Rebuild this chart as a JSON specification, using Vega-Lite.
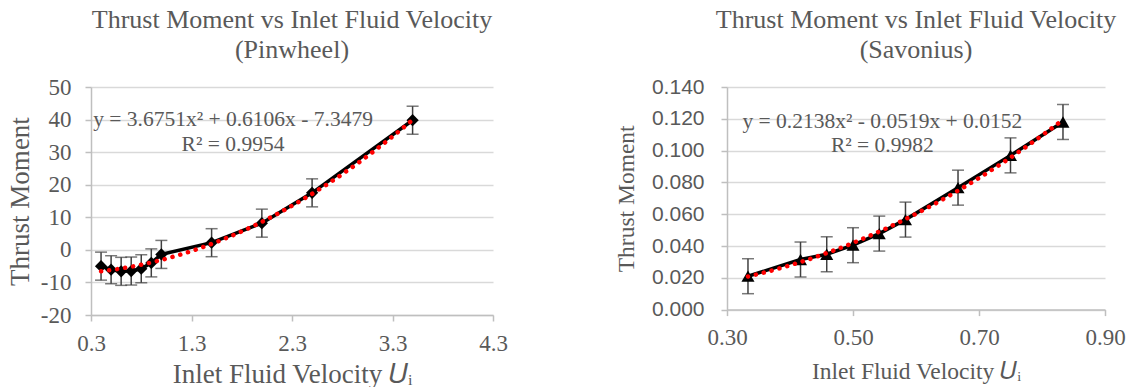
{
  "$schema": "https://vega.github.io/schema/vega-lite/v6.json",
  "padding": {"left": 6, "top": 7, "right": 5, "bottom": 0},
  "spacing": 106,
  "background": "white",
  "config": {
    "view": {"stroke": null},
    "title": {"font": "Liberation Serif", "fontSize": 26, "fontWeight": "normal", "color": "#595959", "lineHeight": 30, "offset": 13, "anchor": "middle", "frame": "group"},
    "axis": {
      "labelFont": "Liberation Serif", "titleFont": "Liberation Serif", "titleFontWeight": "normal",
      "labelColor": "#595959", "titleColor": "#595959",
      "gridColor": "#d9d9d9", "gridWidth": 1.5, "domainColor": "#bfbfbf", "domainWidth": 1.5,
      "tickColor": "#bfbfbf", "tickWidth": 1.5, "tickSize": 6, "labelFlush": false
    }
  },
  "datasets": {
    "pinwheel": [
      {"velocity": 0.4, "moment": -5.0, "error": 4.3},
      {"velocity": 0.5, "moment": -6.1, "error": 4.3},
      {"velocity": 0.6, "moment": -6.6, "error": 4.3},
      {"velocity": 0.7, "moment": -6.5, "error": 4.3},
      {"velocity": 0.8, "moment": -5.8, "error": 4.3},
      {"velocity": 0.9, "moment": -4.0, "error": 4.3},
      {"velocity": 1.0, "moment": -1.4, "error": 4.3},
      {"velocity": 1.5, "moment": 2.2, "error": 4.3},
      {"velocity": 2.0, "moment": 8.2, "error": 4.3},
      {"velocity": 2.5, "moment": 17.5, "error": 4.3},
      {"velocity": 3.5, "moment": 39.8, "error": 4.3}
    ],
    "savonius": [
      {"velocity": 0.3333, "moment": 0.0210, "error": 0.011},
      {"velocity": 0.4167, "moment": 0.0315, "error": 0.011},
      {"velocity": 0.4583, "moment": 0.0348, "error": 0.011},
      {"velocity": 0.5, "moment": 0.0405, "error": 0.011},
      {"velocity": 0.5417, "moment": 0.0478, "error": 0.011},
      {"velocity": 0.5833, "moment": 0.0566, "error": 0.011},
      {"velocity": 0.6667, "moment": 0.0767, "error": 0.011},
      {"velocity": 0.75, "moment": 0.0970, "error": 0.011},
      {"velocity": 0.8333, "moment": 0.1180, "error": 0.011}
    ],
    "pinwheelFit": [
      {"equation": "y = 3.6751x² + 0.6106x - 7.3479", "r2": "R² = 0.9954"}
    ],
    "savoniusFit": [
      {"equation": "y = 0.2138x² - 0.0519x + 0.0152", "r2": "R² = 0.9982"}
    ]
  },
  "hconcat": [
    {
      "width": 402, "height": 228,
      "title": {"text": ["Thrust Moment vs Inlet Fluid Velocity", "(Pinwheel)"]},
      "layer": [
        {
          "data": {"name": "pinwheel"},
          "encoding": {
            "x": {"field": "velocity", "type": "quantitative",
              "scale": {"domain": [0.3, 4.3], "nice": false, "zero": false},
              "axis": {"title": "Inlet Fluid Velocity 𝑈ᵢ", "values": [0.3, 1.3, 2.3, 3.3, 4.3], "format": ".1f", "grid": false,
                "labelFont": "Liberation Serif", "labelFlush": false,
                "labelFontSize": 23, "labelPadding": 11, "titleFontSize": 27, "titlePadding": 6}},
            "y": {"field": "moment", "type": "quantitative",
              "scale": {"domain": [-20, 50], "nice": false, "zero": false},
              "axis": {"title": "Thrust Moment", "values": [-20, -10, 0, 10, 20, 30, 40, 50], "grid": true,
                "labelFont": "Liberation Serif", "labelExpr": "replace(datum.label, '−', '-')",
                "labelFontSize": 23, "labelPadding": 14, "titleFontSize": 27, "titlePadding": 6}}
          },
          "layer": [
            {"mark": {"type": "errorbar", "ticks": {"size": 12, "thickness": 1.5, "color": "#404040"}, "thickness": 1.5, "color": "#404040"},
             "encoding": {"yError": {"field": "error"}}},
            {"mark": {"type": "line", "color": "black", "strokeWidth": 3.5}},
            {"mark": {"type": "point", "shape": "diamond", "filled": true, "color": "black", "size": 150, "opacity": 1}},
            {"transform": [{"regression": "moment", "on": "velocity", "method": "poly", "order": 2}],
             "mark": {"type": "line", "color": "#ff0000", "strokeWidth": 4.5, "strokeDash": [0.1, 8], "strokeCap": "round"}}
          ]
        },
        {
          "data": {"name": "pinwheelFit"},
          "encoding": {
            "x": {"datum": 1.713, "type": "quantitative",
              "scale": {"domain": [0.3, 4.3], "nice": false, "zero": false},
              "axis": {"title": "Inlet Fluid Velocity 𝑈ᵢ", "values": [0.3, 1.3, 2.3, 3.3, 4.3], "format": ".1f", "grid": false,
                "labelFont": "Liberation Serif", "labelFlush": false,
                "labelFontSize": 23, "labelPadding": 11, "titleFontSize": 27, "titlePadding": 6}}
          },
          "layer": [
            {"mark": {"type": "text", "font": "Liberation Serif", "fontSize": 21.5, "color": "#595959", "align": "center", "baseline": "middle"},
             "encoding": {"text": {"field": "equation"},
               "y": {"datum": 39.8, "type": "quantitative",
                 "scale": {"domain": [-20, 50], "nice": false, "zero": false},
                 "axis": {"title": "Thrust Moment", "values": [-20, -10, 0, 10, 20, 30, 40, 50], "grid": true,
                   "labelFont": "Liberation Serif", "labelExpr": "replace(datum.label, '−', '-')",
                   "labelFontSize": 23, "labelPadding": 14, "titleFontSize": 27, "titlePadding": 6}}}},
            {"mark": {"type": "text", "font": "Liberation Serif", "fontSize": 21.5, "color": "#595959", "align": "center", "baseline": "middle"},
             "encoding": {"text": {"field": "r2"},
               "y": {"datum": 32.1, "type": "quantitative",
                 "scale": {"domain": [-20, 50], "nice": false, "zero": false},
                 "axis": {"title": "Thrust Moment", "values": [-20, -10, 0, 10, 20, 30, 40, 50], "grid": true,
                   "labelFont": "Liberation Serif", "labelExpr": "replace(datum.label, '−', '-')",
                   "labelFontSize": 23, "labelPadding": 14, "titleFontSize": 27, "titlePadding": 6}}}}
          ]
        }
      ]
    },
    {
      "width": 378, "height": 222.6,
      "title": {"text": ["Thrust Moment vs Inlet Fluid Velocity", "(Savonius)"]},
      "layer": [
        {
          "data": {"name": "savonius"},
          "encoding": {
            "x": {"field": "velocity", "type": "quantitative",
              "scale": {"domain": [0.3, 0.9], "nice": false, "zero": false},
              "axis": {"title": "Inlet Fluid Velocity 𝑈ᵢ", "values": [0.3, 0.5, 0.7, 0.9], "format": ".2f", "grid": false,
                "labelFont": "Liberation Serif", "labelFlush": false,
                "labelFontSize": 23, "labelPadding": 11, "titleFontSize": 23.5, "titlePadding": 10}},
            "y": {"field": "moment", "type": "quantitative",
              "scale": {"domain": [0, 0.14], "nice": false, "zero": false},
              "axis": {"title": "Thrust Moment", "values": [0, 0.02, 0.04, 0.06, 0.08, 0.1, 0.12, 0.14], "format": ".3f", "grid": true,
                "labelFont": "Liberation Sans", "labelFontSize": 21, "labelPadding": 17, "titleFontSize": 23.5, "titlePadding": 13}}
          },
          "layer": [
            {"mark": {"type": "errorbar", "ticks": {"size": 12, "thickness": 1.5, "color": "#404040"}, "thickness": 1.5, "color": "#404040"},
             "encoding": {"yError": {"field": "error"}}},
            {"mark": {"type": "line", "color": "black", "strokeWidth": 3.5}},
            {"mark": {"type": "point", "shape": "triangle-up", "filled": true, "color": "black", "size": 170, "opacity": 1}},
            {"transform": [{"regression": "moment", "on": "velocity", "method": "poly", "order": 2}],
             "mark": {"type": "line", "color": "#ff0000", "strokeWidth": 4.5, "strokeDash": [0.1, 8], "strokeCap": "round"}}
          ]
        },
        {
          "data": {"name": "savoniusFit"},
          "encoding": {
            "x": {"datum": 0.5465, "type": "quantitative",
              "scale": {"domain": [0.3, 0.9], "nice": false, "zero": false},
              "axis": {"title": "Inlet Fluid Velocity 𝑈ᵢ", "values": [0.3, 0.5, 0.7, 0.9], "format": ".2f", "grid": false,
                "labelFont": "Liberation Serif", "labelFlush": false,
                "labelFontSize": 23, "labelPadding": 11, "titleFontSize": 23.5, "titlePadding": 10}}
          },
          "layer": [
            {"mark": {"type": "text", "font": "Liberation Serif", "fontSize": 21.5, "color": "#595959", "align": "center", "baseline": "middle"},
             "encoding": {"text": {"field": "equation"},
               "y": {"datum": 0.118, "type": "quantitative",
                 "scale": {"domain": [0, 0.14], "nice": false, "zero": false},
                 "axis": {"title": "Thrust Moment", "values": [0, 0.02, 0.04, 0.06, 0.08, 0.1, 0.12, 0.14], "format": ".3f", "grid": true,
                   "labelFont": "Liberation Sans", "labelFontSize": 21, "labelPadding": 17, "titleFontSize": 23.5, "titlePadding": 13}}}},
            {"mark": {"type": "text", "font": "Liberation Serif", "fontSize": 21.5, "color": "#595959", "align": "center", "baseline": "middle"},
             "encoding": {"text": {"field": "r2"},
               "y": {"datum": 0.1029, "type": "quantitative",
                 "scale": {"domain": [0, 0.14], "nice": false, "zero": false},
                 "axis": {"title": "Thrust Moment", "values": [0, 0.02, 0.04, 0.06, 0.08, 0.1, 0.12, 0.14], "format": ".3f", "grid": true,
                   "labelFont": "Liberation Sans", "labelFontSize": 21, "labelPadding": 17, "titleFontSize": 23.5, "titlePadding": 13}}}}
          ]
        }
      ]
    }
  ]
}
